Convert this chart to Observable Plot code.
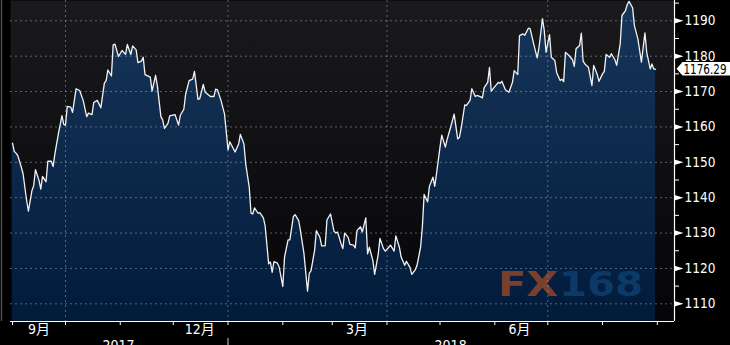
<!DOCTYPE html>
<html>
<head>
<meta charset="utf-8">
<script src="https://cdn.jsdelivr.net/npm/d3@7"></script>
<script src="https://cdn.jsdelivr.net/npm/@observablehq/plot@0.6"></script>
<style>
html,body{margin:0;padding:0;background:#000;overflow:hidden;}
</style>
</head>
<body>
<div id="chart"></div>
<script>
const dates = [
"2017-09-01","2017-09-02","2017-09-03","2017-09-04","2017-09-06","2017-09-07","2017-09-09","2017-09-10","2017-09-12","2017-09-13",
"2017-09-14","2017-09-16","2017-09-17","2017-09-18","2017-09-20","2017-09-21","2017-09-23","2017-09-24","2017-09-25","2017-09-27",
"2017-09-29","2017-09-30","2017-10-01","2017-10-02","2017-10-04","2017-10-05","2017-10-07","2017-10-09","2017-10-11","2017-10-13",
"2017-10-14","2017-10-16","2017-10-17","2017-10-19","2017-10-21","2017-10-23","2017-10-24","2017-10-25","2017-10-27","2017-10-28",
"2017-10-29","2017-10-31","2017-11-02","2017-11-04","2017-11-05","2017-11-07","2017-11-08","2017-11-10","2017-11-11","2017-11-13",
"2017-11-14","2017-11-15","2017-11-18","2017-11-19","2017-11-21","2017-11-22","2017-11-24","2017-11-25","2017-11-26","2017-11-28",
"2017-11-29","2017-12-02","2017-12-04","2017-12-05","2017-12-07","2017-12-08","2017-12-10","2017-12-12","2017-12-13","2017-12-15",
"2017-12-16","2017-12-18","2017-12-19","2017-12-22","2017-12-24","2017-12-25","2017-12-26","2017-12-28","2017-12-30","2018-01-01",
"2018-01-02","2018-01-05","2018-01-07","2018-01-08","2018-01-10","2018-01-11","2018-01-13","2018-01-14","2018-01-15","2018-01-16",
"2018-01-18","2018-01-19","2018-01-21","2018-01-22","2018-01-24","2018-01-25","2018-01-26","2018-01-27","2018-01-29","2018-01-30",
"2018-02-01","2018-02-02","2018-02-04","2018-02-05","2018-02-07","2018-02-08","2018-02-10","2018-02-11","2018-02-13","2018-02-15",
"2018-02-16","2018-02-17","2018-02-19","2018-02-20","2018-02-22","2018-02-23","2018-02-25","2018-02-26","2018-02-28","2018-03-02",
"2018-03-03","2018-03-04","2018-03-06","2018-03-07","2018-03-08","2018-03-10","2018-03-11","2018-03-13","2018-03-14","2018-03-15",
"2018-03-17","2018-03-18","2018-03-20","2018-03-21","2018-03-22","2018-03-24","2018-03-25","2018-03-27","2018-03-28","2018-03-30",
"2018-03-31","2018-04-02","2018-04-03","2018-04-05","2018-04-06","2018-04-08","2018-04-09","2018-04-11","2018-04-12","2018-04-14",
"2018-04-15","2018-04-17","2018-04-18","2018-04-20","2018-04-21","2018-04-22","2018-04-24","2018-04-25","2018-04-27","2018-04-28",
"2018-04-29","2018-05-01","2018-05-02","2018-05-04","2018-05-05","2018-05-07","2018-05-09","2018-05-11","2018-05-12","2018-05-13",
"2018-05-15","2018-05-16","2018-05-18","2018-05-19","2018-05-21","2018-05-22","2018-05-24","2018-05-25","2018-05-26","2018-05-28",
"2018-05-29","2018-05-30","2018-06-01","2018-06-03","2018-06-04","2018-06-05","2018-06-07","2018-06-09","2018-06-11","2018-06-12",
"2018-06-14","2018-06-15","2018-06-17","2018-06-18","2018-06-20","2018-06-21","2018-06-23","2018-06-25","2018-06-26","2018-06-28",
"2018-06-29","2018-06-30","2018-07-02","2018-07-03","2018-07-05","2018-07-06","2018-07-08","2018-07-09","2018-07-10","2018-07-11",
"2018-07-13","2018-07-15","2018-07-16","2018-07-17","2018-07-19","2018-07-20","2018-07-21","2018-07-22","2018-07-24","2018-07-26",
"2018-07-27","2018-07-29","2018-07-30","2018-08-01","2018-08-02","2018-08-03","2018-08-05","2018-08-06","2018-08-08","2018-08-09",
"2018-08-11","2018-08-12","2018-08-14","2018-08-15","2018-08-16","2018-08-18","2018-08-19","2018-08-21","2018-08-22","2018-08-23",
"2018-08-25","2018-08-26","2018-08-28","2018-08-29","2018-08-30","2018-08-31"
];
const values = [
1155.4,1153.1,1152.6,1151.9,1148.6,1146.7,1139.2,1136.2,1142.0,1143.4,
1147.9,1144.9,1142.4,1146.0,1144.5,1150.3,1150.3,1148.8,1152.4,1158.1,
1163.2,1160.7,1160.5,1165.8,1165.6,1164.1,1170.8,1170.3,1167.5,1162.9,
1163.9,1163.5,1166.9,1167.5,1165.4,1172.4,1173.1,1176.1,1174.4,1183.2,
1183.4,1179.9,1181.6,1180.5,1183.3,1180.5,1182.9,1181.8,1178.2,1178.6,
1179.7,1174.8,1174.1,1170.1,1174.6,1171.6,1162.9,1162.0,1159.6,1161.0,
1163.1,1163.5,1160.5,1163.3,1165.0,1169.2,1173.1,1173.5,1175.7,1167.8,
1168.0,1172.0,1169.9,1168.6,1168.6,1170.7,1170.5,1167.5,1163.7,1153.5,
1155.8,1152.9,1155.2,1157.9,1155.2,1149.6,1143.0,1135.6,1135.4,1137.1,
1135.6,1135.8,1134.3,1132.1,1121.3,1121.8,1118.9,1121.9,1121.5,1120.3,
1114.9,1123.2,1128.1,1128.1,1134.7,1135.2,1133.5,1130.7,1124.1,1113.6,
1118.6,1119.4,1125.1,1130.7,1128.8,1126.4,1126.4,1133.7,1135.4,1130.5,
1130.0,1130.3,1127.0,1125.6,1130.0,1128.8,1126.8,1126.6,1125.8,1130.7,
1131.8,1130.3,1134.3,1124.1,1126.0,1122.2,1118.3,1123.9,1128.5,1125.6,
1124.9,1126.0,1126.6,1124.9,1129.2,1126.0,1123.2,1120.9,1122.0,1120.3,
1118.3,1119.6,1120.9,1126.0,1131.6,1140.9,1138.8,1143.2,1145.8,1143.2,
1146.7,1154.3,1157.7,1154.3,1156.4,1159.9,1163.6,1156.6,1157.1,1159.7,
1166.2,1166.1,1167.5,1170.8,1168.6,1168.9,1168.5,1168.2,1171.1,1172.6,
1176.8,1170.1,1171.4,1172.6,1172.3,1172.9,1170.5,1169.8,1172.6,1175.9,
1174.8,1185.8,1186.3,1185.9,1187.9,1187.8,1183.5,1179.5,1182.3,1190.6,
1187.3,1181.1,1186.1,1179.7,1178.8,1175.4,1173.1,1173.5,1172.8,1181.1,
1180.2,1179.0,1177.1,1182.1,1183.0,1186.5,1178.6,1177.8,1176.9,1171.7,
1177.4,1174.8,1172.9,1175.0,1175.7,1180.5,1179.7,1180.7,1179.0,1177.4,
1183.5,1191.5,1192.9,1194.6,1195.5,1193.7,1188.7,1184.9,1181.6,1178.3,
1186.6,1181.1,1176.4,1177.8,1176.4,1176.29
];
const yTicks = [1110,1120,1130,1140,1150,1160,1170,1180,1190];
const yMinorTicks = [1115,1125,1135,1145,1155,1165,1175,1185,1195];
const monthTickDates = ["2017-09-01","2017-10-01","2017-11-01","2017-12-01","2018-01-01","2018-02-01","2018-03-01","2018-04-01","2018-05-01","2018-06-01","2018-07-01","2018-08-01","2018-09-01"];
const gridDates = ["2017-10-01","2018-01-01","2018-04-01","2018-07-01"];
const monthLabels = ["9月","12月","3月","6月"];
const monthLabelDates = ["2017-09-16","2017-12-16","2018-03-15","2018-06-15"];
const yearLabels = ["2017","2018"];
const yearLabelDates = ["2017-10-31","2018-05-07"];
const yearSepDates = ["2018-01-01"];
const lastLabel = "1176.29";

const yMin = 1105, yMax = 1195.74;
const DAY = 864e5;
const xStart = new Date(Date.UTC(2017, 8, 1) - 1.13 * DAY);
const xEnd = new Date(Date.UTC(2017, 8, 1) + 374.73 * DAY);

const data = dates.map((d, i) => ({date: new Date(d), value: values[i]}));
const NS = "http://www.w3.org/2000/svg";
function el(tag, attrs) {
  const e = document.createElementNS(NS, tag);
  for (const k in attrs) e.setAttribute(k, attrs[k]);
  return e;
}

const defs = (index, scales, values_, dims) => {
  const d = el("defs", {});
  const bottom = dims.height - dims.marginBottom;
  const bg = el("linearGradient", {id: "bgGrad", gradientUnits: "userSpaceOnUse", x1: 0, y1: 0, x2: 0, y2: bottom});
  bg.appendChild(el("stop", {offset: "0", "stop-color": "#1a1a1d"}));
  bg.appendChild(el("stop", {offset: "1", "stop-color": "#050508"}));
  const ag = el("linearGradient", {id: "areaGrad", gradientUnits: "userSpaceOnUse", x1: 0, y1: 0, x2: 0, y2: bottom});
  ag.appendChild(el("stop", {offset: "0", "stop-color": "#17365a"}));
  ag.appendChild(el("stop", {offset: "1", "stop-color": "#021b3b"}));
  d.appendChild(bg); d.appendChild(ag);
  const g = el("g", {});
  g.appendChild(d);
  g.appendChild(el("line", {x1: 1.5, x2: 1.5, y1: 0, y2: bottom, stroke: "#4a4a4e", "stroke-width": 1.5}));
  return g;
};

const watermark = (index, scales, values_, dims) => {
  const right = dims.width - dims.marginRight;
  const bottom = dims.height - dims.marginBottom;
  const g = el("g", {"font-family": "'DejaVu Sans', sans-serif", "font-weight": "bold", "font-size": 33, "text-anchor": "start"});
  const t1 = el("text", {x: right - 176, y: bottom - 25, fill: "#7a3f2d", textLength: 60, lengthAdjust: "spacingAndGlyphs"});
  t1.textContent = "FX";
  const t2 = el("text", {x: right - 115, y: bottom - 25, fill: "#0c3a68", textLength: 84, lengthAdjust: "spacingAndGlyphs"});
  t2.textContent = "168";
  g.appendChild(t1); g.appendChild(t2);
  return g;
};

const lastBox = (index, scales, values_, dims) => {
  const right = dims.width - dims.marginRight;
  const y = scales.y(values[values.length - 1]);
  const g = el("g", {"text-anchor": "start"});
  const x0 = right + 2.5;
  g.appendChild(el("path", {d: `M${x0},${y}L${x0 + 6},${y - 6.7}H${dims.width + 2}V${y + 6.7}H${x0 + 6}Z`, fill: "#ffffff"}));
  const t = el("text", {x: x0 + 7, y: y, dy: "0.36em", fill: "#000", "font-size": 13.5, textLength: 43, lengthAdjust: "spacingAndGlyphs"});
  t.textContent = lastLabel;
  g.appendChild(t);
  return g;
};

const arrowSymbol = {
  draw(ctx) {
    ctx.moveTo(0, -2.8);
    ctx.lineTo(9, 0);
    ctx.lineTo(0, 2.8);
    ctx.closePath();
  }
};

const chart = Plot.plot({
  width: 730,
  height: 345,
  marginLeft: 10,
  marginRight: 56,
  marginTop: 0,
  marginBottom: 24,
  style: {
    background: "#000",
    color: "#fff",
    fontFamily: "'Liberation Sans Narrow', 'DejaVu Sans Condensed', 'Noto Sans CJK SC', sans-serif",
    fontSize: "14px",
    overflow: "visible"
  },
  x: {type: "utc", domain: [xStart, xEnd]},
  y: {domain: [yMin, yMax]},
  marks: [
    defs,
    Plot.frame({fill: "url(#bgGrad)", stroke: null}),
    Plot.areaY(data, {x: "date", y1: yMin, y2: "value", fill: "url(#areaGrad)"}),
    watermark,
    Plot.gridY(yTicks, {stroke: "#a8b0bc", strokeOpacity: 0.5, strokeDasharray: "2,3"}),
    Plot.gridX(gridDates.map(d => new Date(d)), {stroke: "#a8b0bc", strokeOpacity: 0.5, strokeDasharray: "2,3"}),
    Plot.lineY(data, {x: "date", y: "value", stroke: "#f2f2f2", strokeWidth: 1.3}),
    Plot.ruleY([yMin], {stroke: "#fff", strokeWidth: 1.2}),
    Plot.ruleX([xEnd], {stroke: "#fff", strokeWidth: 1.2}),
    Plot.axisX(monthTickDates.map(d => new Date(d)), {anchor: "bottom", tickSize: 4, tickFormat: () => "", stroke: "#fff", label: null}),
    Plot.axisX(yearSepDates.map(d => new Date(d)), {anchor: "bottom", tickSize: 8, dy: 17, tickFormat: () => "", stroke: "#ccc", label: null}),
    Plot.text(monthLabels, {x: (d, i) => new Date(monthLabelDates[i]), frameAnchor: "bottom", dy: 3, lineAnchor: "top", text: d => d, fill: "#fff", fontSize: 14}),
    Plot.text(yearLabels, {x: (d, i) => new Date(yearLabelDates[i]), frameAnchor: "bottom", dy: 19, lineAnchor: "top", text: d => d, fill: "#fff", fontSize: 14}),
    Plot.axisY(yMinorTicks, {anchor: "right", tickSize: 4, tickFormat: () => "", stroke: "#fff", label: null}),
    Plot.dot(yTicks, {y: d => d, frameAnchor: "right", symbol: arrowSymbol, fill: "#fff", stroke: null}),
    Plot.text(yTicks, {y: d => d, frameAnchor: "right", dx: 10, textAnchor: "start", text: d => String(d), fill: "#fff", fontSize: 13.5}),
    lastBox
  ]
});
document.getElementById("chart").appendChild(chart);
</script>
</body>
</html>
